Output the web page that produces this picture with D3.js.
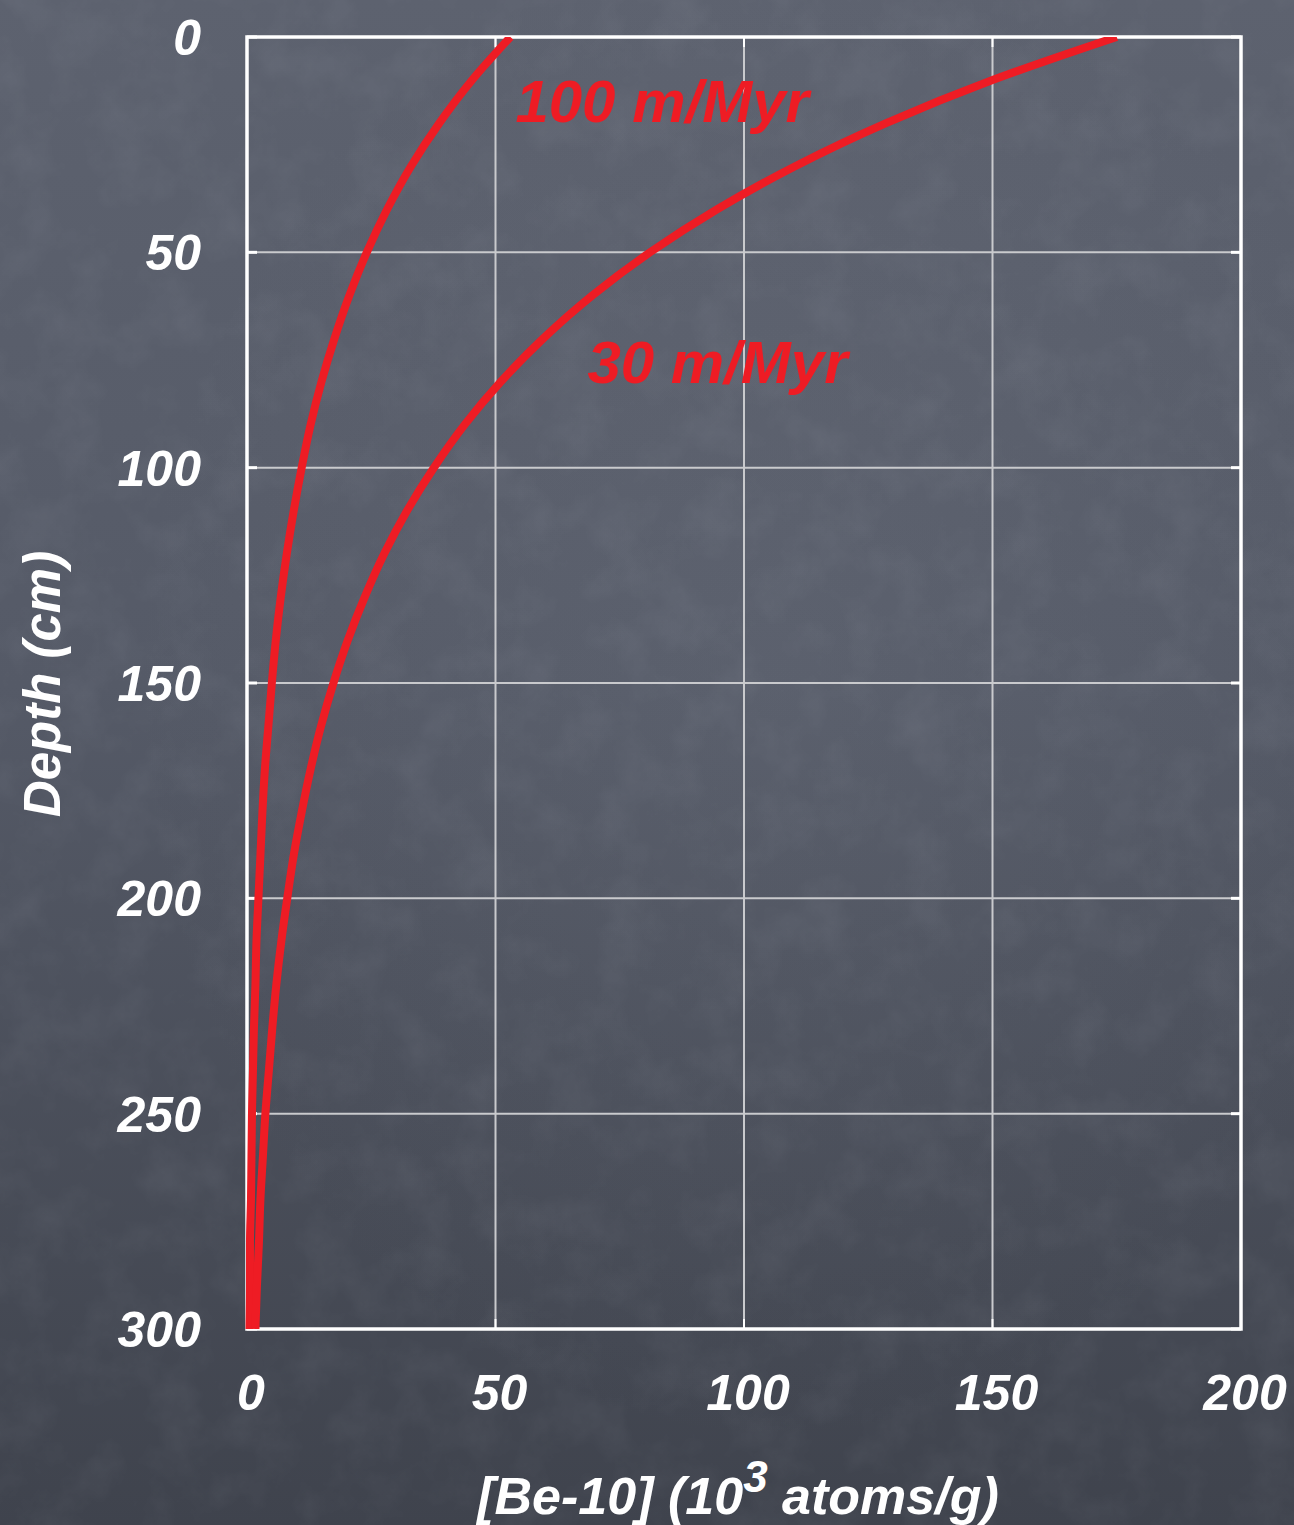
<!DOCTYPE html>
<html>
<head>
<meta charset="utf-8">
<script src="https://cdn.jsdelivr.net/npm/d3@7"></script>
<style>
  html, body { margin: 0; padding: 0; background: #4c515c; }
  svg { display: block; }
  text { font-family: "Liberation Sans", Arial, sans-serif; font-weight: bold; font-style: italic; }
</style>
</head>
<body>
<script>
// Depth profiles of meteoric 10Be for two erosion rates
const depths = [0, 10, 20, 30, 40, 50, 60, 70, 80, 90, 100, 110, 120, 130, 140, 150,
                160, 170, 180, 190, 200, 210, 220, 230, 240, 250, 260, 270, 280, 290, 300];
const be10_100 = [53.0, 45.3, 38.7, 33.0, 28.2, 24.1, 20.6, 17.6, 15.0, 12.8, 11.0, 9.4, 8.0, 6.8, 5.8, 5.0,
                  4.3, 3.6, 3.1, 2.7, 2.3, 1.9, 1.7, 1.4, 1.2, 1.0, 0.9, 0.8, 0.6, 0.6, 0.5];
const be10_30 = [175.0, 150.0, 128.6, 110.3, 94.6, 81.1, 69.5, 59.6, 51.1, 43.8, 37.6, 32.2, 27.6, 23.7, 20.3, 17.4,
                 14.9, 12.8, 11.0, 9.4, 8.1, 6.9, 5.9, 5.1, 4.4, 3.7, 3.2, 2.7, 2.4, 2.0, 1.7];
const seriesNames = ["100 m/Myr", "30 m/Myr"];
const xTicks = [0, 50, 100, 150, 200];
const yTicks = [0, 50, 100, 150, 200, 250, 300];

const W = 1294, H = 1525;
const m = { left: 247, top: 37, right: 53, bottom: 196 };
const iw = W - m.left - m.right, ih = H - m.top - m.bottom;

const svg = d3.select("body").append("svg").attr("width", W).attr("height", H);
const defs = svg.append("defs");

// slate board background
const bg = defs.append("linearGradient").attr("id", "board").attr("x1", 0).attr("y1", 0).attr("x2", 0).attr("y2", 1);
bg.append("stop").attr("offset", "0%").attr("stop-color", "#5d626f");
bg.append("stop").attr("offset", "45%").attr("stop-color", "#555a67");
bg.append("stop").attr("offset", "100%").attr("stop-color", "#3f434d");
const glow = defs.append("radialGradient").attr("id", "glow").attr("cx", 0.6).attr("cy", 0.45).attr("r", 0.5);
glow.append("stop").attr("offset", "0%").attr("stop-color", "#8a909c").attr("stop-opacity", 0.12);
glow.append("stop").attr("offset", "100%").attr("stop-color", "#8a909c").attr("stop-opacity", 0);
const chalk = defs.append("filter").attr("id", "chalk").attr("x", 0).attr("y", 0).attr("width", 1).attr("height", 1);
chalk.append("feTurbulence").attr("type", "fractalNoise").attr("baseFrequency", 0.02).attr("numOctaves", 5).attr("seed", 7);
chalk.append("feColorMatrix").attr("type", "matrix")
  .attr("values", "0 0 0 0 0.75  0 0 0 0 0.78  0 0 0 0 0.85  0 0 0 0.5 -0.2");

svg.append("rect").attr("width", W).attr("height", H).attr("fill", "url(#board)");
svg.append("rect").attr("width", W).attr("height", H).attr("fill", "url(#glow)");
svg.append("rect").attr("width", W).attr("height", H).attr("filter", "url(#chalk)").attr("opacity", 0.22);

const x = d3.scaleLinear().domain([0, 200]).range([0, iw]);
const y = d3.scaleLinear().domain([0, 300]).range([0, ih]);

const g = svg.append("g").attr("transform", `translate(${m.left},${m.top})`);

// grid
g.append("g").selectAll("line").data(xTicks.slice(1, -1)).join("line")
  .attr("x1", d => x(d)).attr("x2", d => x(d)).attr("y1", 0).attr("y2", ih)
  .attr("stroke", "#c9cacd").attr("stroke-width", 2);
g.append("g").selectAll("line").data(yTicks.slice(1, -1)).join("line")
  .attr("y1", d => y(d)).attr("y2", d => y(d)).attr("x1", 0).attr("x2", iw)
  .attr("stroke", "#c9cacd").attr("stroke-width", 2);

// inward major ticks
const tickLen = 10;
g.append("g").selectAll("line").data(yTicks).join("line")
  .attr("x1", 0).attr("x2", tickLen).attr("y1", d => y(d)).attr("y2", d => y(d))
  .attr("stroke", "#fff").attr("stroke-width", 3);
g.append("g").selectAll("line").data(yTicks).join("line")
  .attr("x1", iw - tickLen).attr("x2", iw).attr("y1", d => y(d)).attr("y2", d => y(d))
  .attr("stroke", "#fff").attr("stroke-width", 3);
g.append("g").selectAll("line").data(xTicks).join("line")
  .attr("x1", d => x(d)).attr("x2", d => x(d)).attr("y1", 0).attr("y2", tickLen)
  .attr("stroke", "#fff").attr("stroke-width", 2);
g.append("g").selectAll("line").data(xTicks).join("line")
  .attr("x1", d => x(d)).attr("x2", d => x(d)).attr("y1", ih - tickLen).attr("y2", ih)
  .attr("stroke", "#fff").attr("stroke-width", 2);

// frame
g.append("rect").attr("x", 0).attr("y", 0).attr("width", iw).attr("height", ih)
  .attr("fill", "none").attr("stroke", "#fff").attr("stroke-width", 3.5);

// profiles
const clip = defs.append("clipPath").attr("id", "plotclip");
clip.append("rect").attr("x", -10).attr("y", 0).attr("width", iw + 20).attr("height", ih);
const line = d3.line().x(d => x(d[1])).y(d => y(d[0])).curve(d3.curveMonotoneY);
[be10_100, be10_30].forEach(vals => {
  g.append("path").datum(depths.map((d, i) => [d, vals[i]]))
    .attr("d", line).attr("fill", "none").attr("stroke", "#ee1c24")
    .attr("stroke-width", 8).attr("clip-path", "url(#plotclip)");
});

// series labels
g.append("text").attr("x", x(54)).attr("y", y(19.8)).attr("font-size", 60).attr("fill", "#ee1c24").text(seriesNames[0]);
g.append("text").attr("x", x(68.5)).attr("y", y(80.3)).attr("font-size", 60).attr("fill", "#ee1c24").text(seriesNames[1]);

// tick labels
g.append("g").selectAll("text").data(yTicks).join("text")
  .attr("x", -46).attr("y", d => y(d)).attr("dy", "0.36em")
  .attr("text-anchor", "end").attr("font-size", 50).attr("fill", "#fff").text(d => d);
g.append("g").selectAll("text").data(xTicks).join("text")
  .attr("x", d => x(d) + 4).attr("y", ih + 81)
  .attr("text-anchor", "middle").attr("font-size", 50).attr("fill", "#fff").text(d => d);

// axis titles
const xt = svg.append("text").attr("x", 738).attr("y", 1514).attr("text-anchor", "middle")
  .attr("font-size", 52).attr("fill", "#fff");
xt.append("tspan").text("[Be-10] (10");
xt.append("tspan").attr("font-size", 44).attr("dy", -22).text("3");
xt.append("tspan").attr("dy", 22).text(" atoms/g)");

svg.append("text").attr("transform", "translate(60,684) rotate(-90)").attr("text-anchor", "middle")
  .attr("font-size", 51).attr("fill", "#fff").text("Depth (cm)");
</script>
</body>
</html>
